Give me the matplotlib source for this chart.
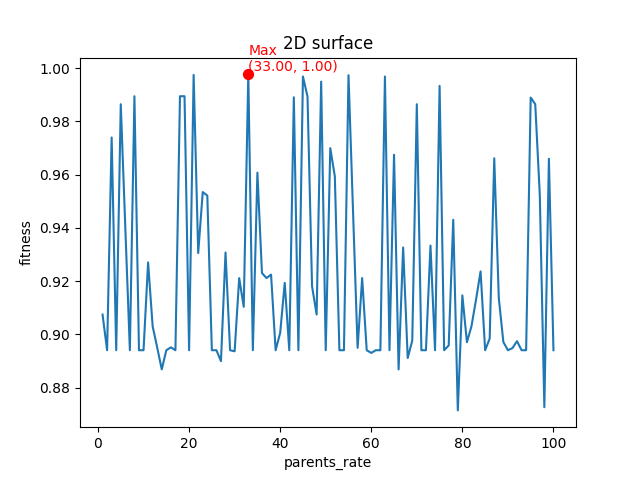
import matplotlib
matplotlib.use("Agg")
import matplotlib.pyplot as plt
import numpy as np

parents_rate = list(range(1, 101))
fitness = [
    0.9074, 0.8940, 0.9739, 0.8940, 0.9864, 0.9400, 0.8940, 0.9894, 0.8940, 0.8940,
    0.9270, 0.9030, 0.8950, 0.8868, 0.8940, 0.8951, 0.8940, 0.9894, 0.9894, 0.8940,
    0.9974, 0.9305, 0.9534, 0.9521, 0.8940, 0.8940, 0.8899, 0.9307, 0.8940, 0.8936,
    0.9211, 0.9103, 0.9976, 0.8940, 0.9607, 0.9230, 0.9211, 0.9224, 0.8940, 0.9005,
    0.9193, 0.8940, 0.9890, 0.8940, 0.9968, 0.9893, 0.9180, 0.9074, 0.9949, 0.8940,
    0.9699, 0.9593, 0.8940, 0.8940, 0.9973, 0.9460, 0.8949, 0.9211, 0.8940, 0.8930,
    0.8940, 0.8940, 0.9968, 0.8940, 0.9674, 0.8868, 0.9326, 0.8911, 0.8976, 0.9864,
    0.8940, 0.8940, 0.9333, 0.8940, 0.9933, 0.8940, 0.8958, 0.9430, 0.8714, 0.9146,
    0.8970, 0.9030, 0.9130, 0.9236, 0.8940, 0.8984, 0.9661, 0.9136, 0.8971, 0.8940,
    0.8948, 0.8974, 0.8940, 0.8940, 0.9889, 0.9864, 0.9524, 0.8726, 0.9659, 0.8940,
]

x = np.array(parents_rate)
y = np.array(fitness)
i = int(np.argmax(y))
xmax, ymax = x[i], y[i]

fig, ax = plt.subplots(figsize=(6.4, 4.8), dpi=100)
ax.plot(x, y)
ax.scatter([xmax], [ymax], color='red', s=50, zorder=3)
ax.text(xmax, ymax, f"Max\n({xmax:.2f}, {ymax:.2f})", color='red', ha='left', va='bottom')
ax.set_title("2D surface")
ax.set_xlabel("parents_rate")
ax.set_ylabel("fitness")
fig.savefig("out.png")
